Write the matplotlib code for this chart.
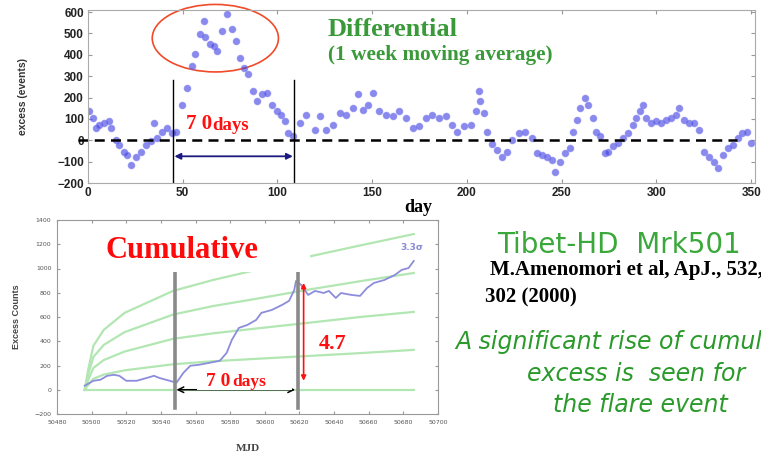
import numpy as np
import matplotlib.pyplot as plt
from matplotlib.patches import Ellipse, Rectangle

W, H = 761, 454

# differential excess, 1 week moving average (day, events)
day = [0.7, 2.4, 4.2, 6, 8.6, 11.2, 12.1, 14.7, 16.4, 18.9,
       20.8, 22.6, 25.2, 27.8, 30.4, 33, 34.8, 36.6, 39.2, 41.8,
       44.4, 46.2, 49.6, 52.3, 54.9, 56.7, 59.3, 61, 61.9, 64.5,
       66.3, 68, 70.7, 73.3, 76, 77.9, 80.3, 82.1, 84.7, 87.3,
       89, 91.6, 94.3, 96.9, 99.5, 102.1, 103.8, 105.6, 108.2, 111.7,
       115.3, 119.6, 122.3, 125.8, 129.3, 132.8, 136.3, 139.8, 142.4, 145.1,
       147.7, 150.3, 153.8, 157.3, 160.8, 164.3, 167.8, 171.3, 174.8, 178.3,
       181.8, 185.3, 188.8, 192.2, 194.9, 198.4, 201.9, 204.5, 206.3, 207.1,
       208.8, 210.6, 213.2, 215.8, 218.4, 221.1, 223.7, 227.2, 230.7, 234.2,
       236.8, 239.4, 242.1, 244.7, 246.4, 249.1, 251.7, 254.3, 256.1, 257.8,
       259.5, 262.1, 263.9, 266.5, 268.3, 270, 272.7, 274.4, 277, 279.7,
       282.3, 284.9, 287.6, 289.3, 291.1, 292.8, 294.6, 297.2, 299.8, 302.4,
       305.1, 307.7, 310.3, 312.1, 314.7, 317.3, 319.9, 322.6, 325.2, 327.9,
       330.5, 332.3, 334.9, 337.5, 340.2, 342.8, 345.4, 348, 349.8]
excess = [136, 105, 57, 73, 81, 89, 57, 2, -21, -53,
          -69, -116, -77, -53, -21, -5, 81, 10, 41, 57,
          33, 41, 167, 246, 348, 403, 498, 560, 482, 450,
          442, 418, 513, 592, 521, 466, 387, 340, 309, 230,
          183, 215, 222, 167, 136, 120, 89, 34, 18, 81,
          120, 49, 113, 49, 73, 128, 120, 152, 215, 144,
          167, 222, 136, 120, 113, 136, 105, 57, 65, 105,
          120, 105, 113, 73, 41, 65, 73, 136, 230, 183,
          128, 41, -18, -45, -77, -53, 2, 33, 41, 10,
          -61, -69, -77, -93, -147, -100, -61, -37, 41, 97,
          151, 199, 167, 105, 41, 18, -61, -53, -29, -13,
          10, 33, 73, 105, 136, 167, 105, 81, 89, 81,
          97, 105, 120, 152, 97, 81, 81, 49, -53, -77,
          -100, -132, -69, -37, -21, 10, 33, 41, -13]

# cumulative excess counts vs MJD
mjd = [50496, 50501, 50505, 50509, 50513, 50516, 50520, 50526, 50532, 50536,
       50539, 50545, 50549, 50553, 50557, 50562, 50568, 50574, 50578, 50581,
       50585, 50590, 50595, 50598, 50604, 50610, 50614, 50617, 50618, 50621,
       50625, 50629, 50634, 50637, 50641, 50644, 50650, 50655, 50659, 50663,
       50669, 50675, 50679, 50683, 50686]
cum = [33, 74, 82, 115, 123, 115, 74, 74, 98, 115,
       98, 74, 58, 140, 198, 206, 222, 239, 305, 412,
       510, 535, 576, 634, 658, 700, 733, 823, 897, 864,
       782, 815, 798, 815, 757, 798, 782, 774, 839, 881,
       905, 946, 988, 1004, 1062]

# significance curves (0 to 4 sigma)
sig_mjd = [50496, 50498, 50501, 50507, 50519, 50547, 50570, 50595, 50627, 50655, 50686]
sig1 = [0, 40, 90, 125, 160, 210, 235, 255, 280, 302, 329]
sig2 = [0, 80, 180, 245, 315, 420, 465, 505, 555, 600, 642]
sig3 = [0, 125, 270, 370, 475, 620, 690, 750, 830, 895, 963]
sig4 = [0, 165, 362, 494, 634, 815, 905, 988, 1103, 1190, 1284]
sig0 = [0] * len(sig_mjd)

cum_xticks = [50480, 50500, 50520, 50540, 50560, 50580, 50600,
              50620, 50640, 50660, 50680, 50700]


def fx(x):
    return x / W


def fy(y):
    return 1 - y / H


fig = plt.figure(figsize=(W / 100, H / 100), dpi=100)
fig.patch.set_facecolor('white')

serif = 'Liberation Serif'
sans = 'Liberation Sans'
wide = 'DejaVu Sans'

# ---- top panel: differential ----
ax1 = fig.add_axes([fx(88), fy(183), (755 - 88) / W, (183 - 10) / H])
ax1.plot(day, excess, 'o', ms=4.6, color='#3c3ce0', alpha=0.6, mec='#7a7af0', mew=0.9)
ax1.set_xlim(0, 352)
ax1.set_ylim(-200, 610)
ax1.set_xticks(np.arange(0, 351, 50))
ax1.set_yticks(np.arange(-200, 601, 100))
ax1.tick_params(direction='in', top=True, right=True, length=3, color='#999999',
                labelsize=8.5, pad=3)
for lab in ax1.get_xticklabels() + ax1.get_yticklabels():
    lab.set_fontweight('bold')
    lab.set_fontfamily(sans)
    lab.set_color('#222222')
for s in ax1.spines.values():
    s.set_color('#aaaaaa')
    s.set_linewidth(0.8)
ax1.set_xlabel('day', fontsize=13, fontweight='bold', family=serif, labelpad=0)
ax1.xaxis.set_label_coords(fx(418 - 88) / ((755 - 88) / W), -0.095)
ax1.set_ylabel('excess (events)', fontsize=7.5, fontweight='bold', family=sans, color='#333333')
ax1.yaxis.set_label_coords(-0.09, 0.5)

# zero line runs a little past the left spine
ax1.plot([-5.2, 342.6], [0, 0], ls=(0, (4, 2.5)), color='black', lw=1.8, clip_on=False)

# flare window
for d in [45.1, 108.6]:
    ax1.plot([d, d], [-200, 281], color='black', lw=1)
ax1.annotate('', xy=(45.6, -75), xytext=(108.1, -75),
             arrowprops=dict(arrowstyle='<|-|>', color='#1a1a80', lw=1.3,
                             mutation_scale=9, shrinkA=0, shrinkB=0))
ax1.add_patch(Ellipse((67.2, 478), 66.6, 316, fill=False, ec='#f04a28', lw=1.2, clip_on=False))

fig.text(fx(186), fy(124), '7 0', color='#ff1010', fontsize=15, fontweight='bold',
         family=serif, va='center')
fig.text(fx(212), fy(125), 'days', color='#ff1010', fontsize=13.5, fontweight='bold',
         family=serif, va='center')

fig.text(fx(328), fy(30), 'Differential', color='#3a9a3a', fontsize=19,
         fontweight='bold', family=serif, va='center')
fig.text(fx(328), fy(55), '(1 week moving average)', color='#3a9a3a', fontsize=15.3,
         fontweight='bold', family=serif, va='center')

# ---- bottom panel: cumulative ----
ax2 = fig.add_axes([fx(57), fy(414), (438 - 57) / W, (414 - 220) / H])
green = '#b2e6b2'
for curve in [sig0, sig1, sig2, sig3, sig4]:
    ax2.plot(sig_mjd, curve, color=green, lw=1.6)
ax2.plot(mjd, cum, color='#8c8cdc', lw=1.3)
ax2.set_xlim(50480, 50700)
ax2.set_ylim(-200, 1400)
ax2.set_xticks(cum_xticks)
ax2.set_yticks(np.arange(-200, 1401, 200))
ax2.tick_params(direction='in', top=True, right=True, length=2.5, color='#999999',
                labelsize=4.5, labelcolor='#555555', pad=4)
for s in ax2.spines.values():
    s.set_color('#999999')
    s.set_linewidth(0.8)
ax2.set_xlabel('MJD', fontsize=8, fontweight='bold', family=serif, color='#444444',
               labelpad=14)
ax2.set_ylabel('Excess Counts', fontsize=6.5, fontweight='bold', family=sans,
               color='#444444', labelpad=10)

for m in [50548, 50619]:
    ax2.plot([m, m], [-150, 980], color='#8a8a8a', lw=2.6)
ax2.annotate('', xy=(50549, 0), xytext=(50617.5, 0),
             arrowprops=dict(arrowstyle='<->', color='black', lw=1.1,
                             mutation_scale=10, shrinkA=0, shrinkB=0))
ax2.annotate('', xy=(50622.4, 881), xytext=(50622.4, 74),
             arrowprops=dict(arrowstyle='<|-|>', color='#ff1010', lw=1.2,
                             mutation_scale=7, shrinkA=0, shrinkB=0))
ax2.text(50678, 1170, '3.3σ', color='#8a8ad6', fontsize=6.5, fontweight='bold', va='center')

# white boxes behind the labels
fig.patches.append(Rectangle((fx(100), fy(272)), (310 - 100) / W, (272 - 228) / H,
                             transform=fig.transFigure, fc='white', ec='none', zorder=1))
fig.patches.append(Rectangle((fx(197), fy(390)), (292 - 197) / W, (390 - 369) / H,
                             transform=fig.transFigure, fc='white', ec='none', zorder=1))

fig.text(fx(106), fy(250), 'Cumulative', color='#ff0a0a', fontsize=22, fontweight='bold',
         family=serif, va='center')
fig.text(fx(206), fy(381), '7 0', color='#ff1010', fontsize=14, fontweight='bold',
         family=serif, va='center')
fig.text(fx(232), fy(382), 'days', color='#ff1010', fontsize=12.5, fontweight='bold',
         family=serif, va='center')
fig.text(fx(319), fy(344), '4.7', color='#ff1010', fontsize=16, fontweight='bold',
         family=serif, va='center')

# ---- notes on the right (lines run off the slide edge) ----
fig.text(fx(497), fy(245), 'Tibet-HD  Mrk501', color='#3aa83a', fontsize=20,
         family=wide, va='center')
fig.text(fx(490), fy(270), 'M.Amenomori et al, ApJ., 532,', color='black', fontsize=15,
         fontweight='bold', family=serif, va='center')
fig.text(fx(485), fy(297), '302 (2000)', color='black', fontsize=15,
         fontweight='bold', family=serif, va='center')
fig.text(fx(455), fy(342), 'A significant rise of cumulative', color='#2a9a2a', fontsize=17,
         style='italic', family=wide, va='center')
fig.text(fx(527), fy(374), 'excess is  seen for', color='#2a9a2a', fontsize=17,
         style='italic', family=wide, va='center')
fig.text(fx(553), fy(405), 'the flare event', color='#2a9a2a', fontsize=17,
         style='italic', family=wide, va='center')

fig.savefig('out.png', dpi=100, facecolor='white')
